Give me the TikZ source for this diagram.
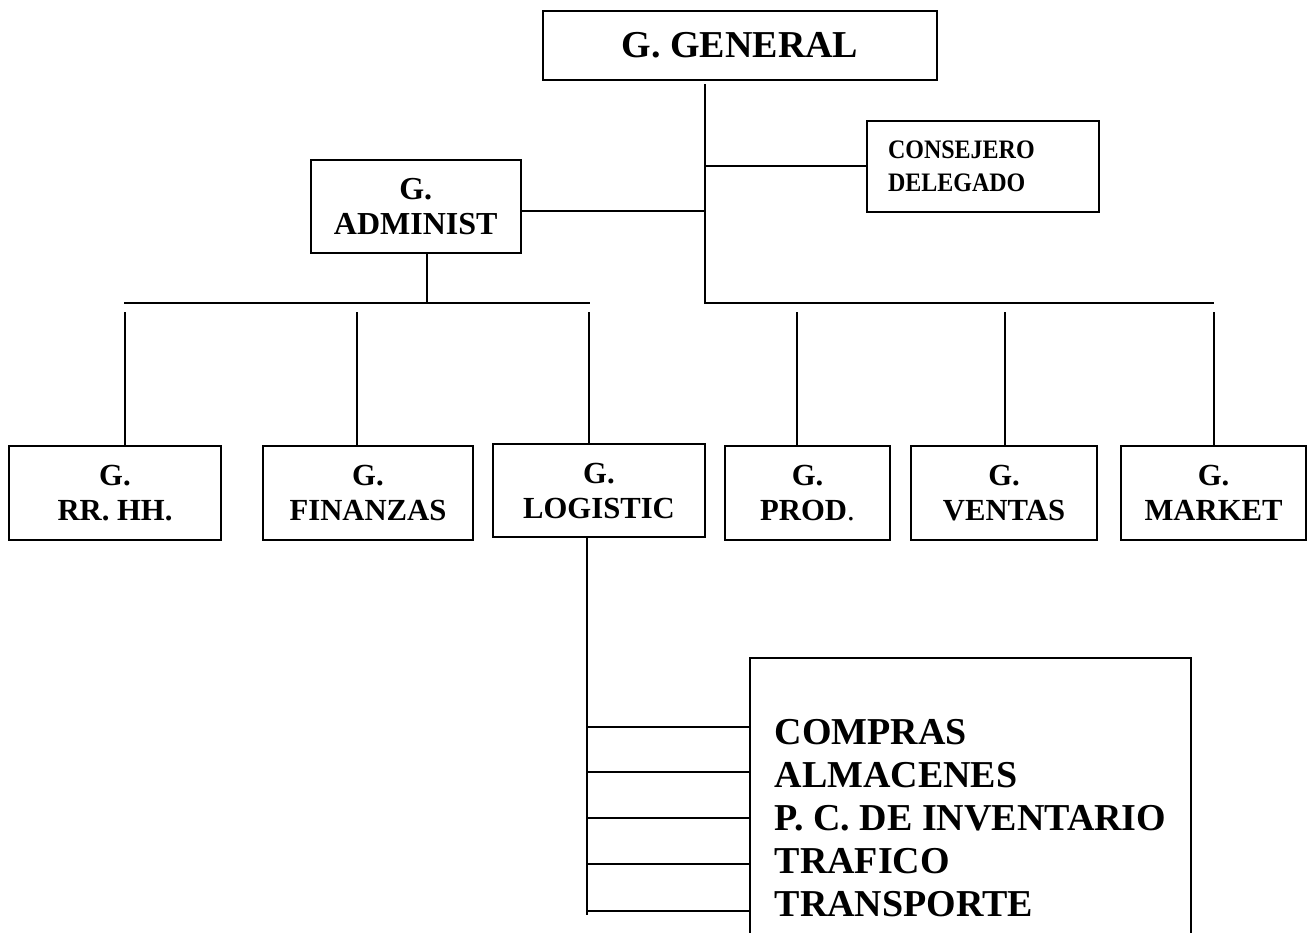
\documentclass[tikz,border=0pt]{standalone}
\usepackage{fontspec}
\setmainfont{Liberation Serif}
\newfontfamily\condA[FakeStretch=0.9]{Liberation Serif}
\begin{document}
\begin{tikzpicture}[x=0.75pt,y=-0.75pt,
  ln/.style={line width=1.5pt},
  box/.style={draw,line width=1.5pt,inner sep=0pt,align=center,
    font=\bfseries\fontsize{23}{26.25}\selectfont},
  sz/.style 2 args={minimum width=#1*0.75pt,minimum height=#2*0.75pt}]
\useasboundingbox (0,0) rectangle (1308,932);
\fill[white] (0,0) rectangle (1308,932);
% boxes
\node[box,sz={394}{69},font=\bfseries\fontsize{28.5}{32}\selectfont] (gen) at (740,45.5) {G. GENERAL};
\node[box,sz={232}{91},align=left,text width=142.5pt,inner xsep=15.75pt,
  font=\condA\bfseries\fontsize{20}{24.75}\selectfont] (cons) at (983,166.5) {CONSEJERO\\DELEGADO};
\node[box,sz={210.5}{93},font=\bfseries\fontsize{24}{26.25}\selectfont] (adm) at (415.75,206.5) {G.\\ADMINIST};
\node[box,sz={212}{94}] (rr) at (115,493) {G.\\RR. HH.};
\node[box,sz={210}{94}] (fin) at (368,493) {G.\\FINANZAS};
\node[box,sz={212}{93}] (log) at (599,490.5) {G.\\LOGISTIC};
\node[box,sz={165}{94}] (prod) at (807.5,493) {G.\\PROD\textmd{.}};
\node[box,sz={186}{94}] (ven) at (1004,493) {G.\\VENTAS};
\node[box,sz={185}{94}] (mkt) at (1213.5,493) {G.\\MARKET};
\node[box,sz={441.5}{321},align=left,
  font=\bfseries\fontsize{28.5}{32.25}\selectfont] (sub) at (970.5,818.5)
  {COMPRAS\\ALMACENES\\P. C. DE INVENTARIO\\TRAFICO\\TRANSPORTE};
% connectors from G. GENERAL
\coordinate (gv) at (705,84);
\coordinate (busR) at (1214,303);
\draw[ln] (gv) -- (gv |- busR) -- (busR);
\coordinate (ch) at (705,166);
\draw[ln] (ch) -- (ch -| cons.west);
\coordinate (ah) at (705,210.7);
\draw[ln] (ah -| adm.east) -- (ah);
% admin bus
\coordinate (av) at (427,303);
\draw[ln] (av |- adm.south) -- (av);
\coordinate (bl1) at (124,303);
\coordinate (bl2) at (590,303);
\draw[ln] (bl1) -- (bl2);
% drops
\foreach \xx/\nn in {125/rr,357/fin,589/log,797/prod,1005/ven,1214/mkt}{
  \coordinate (dt) at (\xx,312);
  \draw[ln] (dt) -- (dt |- \nn.north);
}
% logistic subtree
\coordinate (lb) at (587,915);
\draw[ln] (lb |- log.south) -- (lb);
\foreach \yy in {727,772,818,864,911}{
  \coordinate (st) at (587,\yy);
  \draw[ln] (st) -- (st -| sub.west);
}
\end{tikzpicture}
\end{document}
